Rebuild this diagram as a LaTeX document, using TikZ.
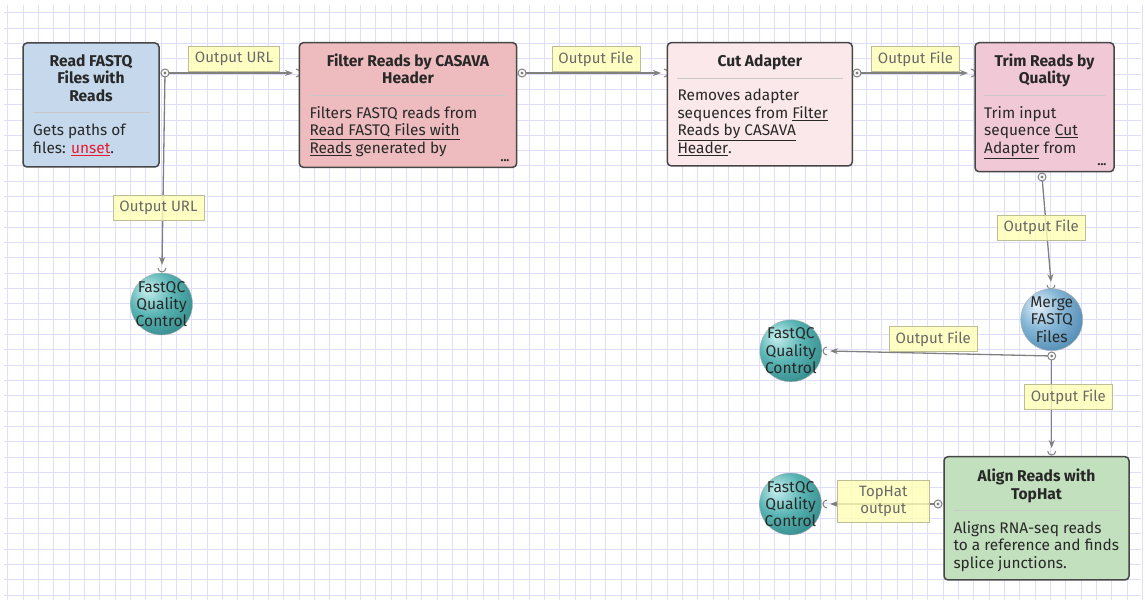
\documentclass[tikz,border=0pt]{standalone}
\usepackage{fontspec}
\setmainfont{Fira Sans}
\usetikzlibrary{arrows.meta}
\definecolor{gridc}{RGB}{222,222,252}
\definecolor{conn}{RGB}{128,128,128}
\definecolor{bord}{RGB}{70,70,70}
\definecolor{sep}{RGB}{200,200,200}
\definecolor{cblue}{RGB}{197,216,236}
\definecolor{cred}{RGB}{238,188,190}
\definecolor{cpale}{RGB}{250,232,234}
\definecolor{cmauve}{RGB}{240,200,214}
\definecolor{cgreen}{RGB}{194,224,190}
\definecolor{labfill}{RGB}{255,255,180}
\definecolor{labdraw}{RGB}{190,190,150}
\definecolor{labtext}{RGB}{105,105,105}
\definecolor{txt}{RGB}{40,40,40}
\definecolor{unsetred}{RGB}{232,25,44}
\definecolor{tealhi}{RGB}{200,240,240}
\definecolor{tealmid}{RGB}{90,180,180}
\definecolor{tealdk}{RGB}{30,115,115}
\definecolor{bluehi}{RGB}{230,242,250}
\definecolor{bluemid}{RGB}{130,180,212}
\definecolor{bluedk}{RGB}{55,115,160}
\pgfdeclareradialshading{tealball}{\pgfpoint{-12bp}{12bp}}{color(0bp)=(tealhi); color(18bp)=(tealmid); color(45bp)=(tealdk); color(70bp)=(tealdk)}
\pgfdeclareradialshading{blueball}{\pgfpoint{-12bp}{12bp}}{color(0bp)=(bluehi); color(18bp)=(bluemid); color(45bp)=(bluedk); color(70bp)=(bluedk)}
\tikzset{
  gridline/.style={gridc, line width=1pt},
  stepbox/.style={draw=bord, line width=1.5pt, rounded corners=4pt, inner sep=0pt},
  ttl/.style={font=\fontsize{15.6}{17.3}\selectfont\bfseries, text=txt, align=center, anchor=base, inner sep=0pt},
  body/.style={font=\fontsize{15.4}{17.5}\selectfont, text=txt, align=left, anchor=base west, inner sep=0pt},
  sepline/.style={sep, line width=0.8pt},
  ball/.style={circle, minimum size=62pt, inner sep=0pt, draw=gray!60, line width=0.4pt},
  balltext/.style={font=\fontsize{15.6}{17.3}\selectfont, text=txt, align=center, inner sep=0pt},
  connline/.style={conn, line width=1.3pt, -{Stealth[length=8pt,width=6pt]}},
  inarc/.style={conn, line width=1pt},
  lab/.style={draw=labdraw, fill=labfill, fill opacity=0.8, text opacity=1, text=labtext, line width=0.8pt, font=\fontsize{15}{17}\selectfont, inner sep=0pt, align=center},
  portring/.style={draw=conn, fill=white, line width=1pt},
  dots/.style={font=\fontsize{12}{12}\selectfont\bfseries, text=txt, inner sep=0pt}
}
\begin{document}
\begin{tikzpicture}[x=1pt, y=-1pt]
\useasboundingbox (0,0) rectangle (1145,604);
\fill[white] (0,0) rectangle (1145,604);
% grid
\foreach \i in {0,...,74} { \draw[gridline] ({7.9+15.33*\i},5) -- ({7.9+15.33*\i},600); }
\foreach \j in {0,...,38} { \draw[gridline] (4,{12.7+15.33*\j}) -- (1141,{12.7+15.33*\j}); }

% ports and inputs
\coordinate (p1) at (165,73);
\coordinate (p2) at (522,73);
\coordinate (p3) at (857,73);
\coordinate (p4) at (1042,177);
\coordinate (p5) at (1051.7,356);
\coordinate (p6) at (938,504);
\coordinate (a1) at (293,73);   \coordinate (i1) at (296,73);
\coordinate (a2) at (661,73);   \coordinate (i2) at (664,73);
\coordinate (a3) at (968,73);   \coordinate (i3) at (971,73);
\coordinate (a4) at (162,265);  \coordinate (i4) at (162,268);
\coordinate (a5) at (1051,282); \coordinate (i5) at (1051,285);
\coordinate (a6) at (830,351);  \coordinate (i6) at (827,351);
\coordinate (a7) at (1051.7,448); \coordinate (i7) at (1051.7,451);
\coordinate (a8) at (830,504);  \coordinate (i8) at (827,504);

% connectors
\draw[connline] (p1) -- (a1);
\draw[connline] (p2) -- (a2);
\draw[connline] (p3) -- (a3);
\draw[connline] (p1) -- (a4);
\draw[connline] (p4) -- (a5);
\draw[connline] (p5) -- (a6);
\draw[connline] (p5) -- (a7);
\draw[connline] (p6) -- (a8);
% input arcs
\draw[inarc] (i1) ++(0,-4) arc (-90:90:4);
\draw[inarc] (i2) ++(0,-4) arc (-90:90:4);
\draw[inarc] (i3) ++(0,-4) arc (-90:90:4);
\draw[inarc] (i4) ++(-4,0) arc (180:0:4);
\draw[inarc] (i5) ++(-4,0) arc (180:0:4);
\draw[inarc] (i6) ++(0,-4) arc (270:90:4);
\draw[inarc] (i7) ++(-4,0) arc (180:0:4);
\draw[inarc] (i8) ++(0,-4) arc (270:90:4);

% labels
\node[lab, minimum width=90.6pt, minimum height=25.7pt] (l1) at (234,58.8) {Output URL};
\node[lab, minimum width=91pt, minimum height=25pt] (l2) at (158.5,207.5) {Output URL};
\node[lab, minimum width=88pt, minimum height=25.7pt] (l3) at (596,58.8) {Output File};
\node[lab, minimum width=87.6pt, minimum height=25.7pt] (l4) at (915.5,58.8) {Output File};
\node[lab, minimum width=87.7pt, minimum height=25pt] (l5) at (1041.2,227.5) {Output File};
\node[lab, minimum width=88.3pt, minimum height=25.7pt] (l6) at (933.2,338.8) {Output File};
\node[lab, minimum width=88pt, minimum height=25pt] (l7) at (1068.3,396.8) {Output File};
\node[lab, minimum width=92pt, minimum height=42.3pt] (l8) at (883.3,501.2) {TopHat\\output};

% boxes
\node[stepbox, fill=cblue, minimum width=136pt, minimum height=124pt] (read) at (91,105) {};
\node[stepbox, fill=cred, minimum width=217.4pt, minimum height=124.6pt] (filter) at (408,105) {};
\node[stepbox, fill=cpale, minimum width=185pt, minimum height=123.3pt] (cut) at (759.8,104.3) {};
\node[stepbox, fill=cmauve, minimum width=139pt, minimum height=129pt] (trim) at (1044.5,107.2) {};
\node[stepbox, fill=cgreen, minimum width=185pt, minimum height=123.3pt] (align) at (1036.5,518.3) {};

% box texts (anchor = baseline of last line)
\node[ttl] (readt) at (91,101.3) {Read FASTQ\\Files with\\Reads};
\draw[sepline] (33,112.7) -- (150,112.7);
\node[body] (readb) at (33,153.3) {Gets paths of\\files: \textcolor{unsetred}{\underline{unset}}.};

\node[ttl] (filtert) at (408,84) {Filter Reads by CASAVA\\Header};
\draw[sepline] (309,95) -- (507,95);
\node[body] (filterb) at (309.3,153.3) {Filters FASTQ reads from\\\underline{Read FASTQ Files with}\\\underline{Reads} generated by};
\node[dots] (filterd) at (505,161) {...};

\node[ttl] (cutt) at (759.8,66.7) {Cut Adapter};
\draw[sepline] (677,78.3) -- (843,78.3);
\node[body] (cutb) at (677.3,153.3) {Removes adapter\\sequences from \underline{Filter}\\\underline{Reads by CASAVA}\\\underline{Header}.};

\node[ttl] (trimt) at (1044.5,84) {Trim Reads by\\Quality};
\draw[sepline] (984,95) -- (1105,95);
\node[body] (trimb) at (984,153.3) {Trim input\\sequence \underline{Cut}\\\underline{Adapter} from};
\node[dots] (trimd) at (1102,165) {...};

\node[ttl] (alignt) at (1036.5,499) {Align Reads with\\TopHat};
\draw[sepline] (954,510) -- (1120,510);
\node[body] (alignb) at (953.3,568.3) {Aligns RNA-seq reads\\to a reference and finds\\splice junctions.};

% balls
\node[ball, shading=tealball] (fq1) at (161.5,304) {};
\node[balltext] at (fq1) {FastQC\\Quality\\Control};
\node[ball, shading=blueball] (merge) at (1051.7,319.7) {};
\node[balltext] at (merge) {Merge\\FASTQ\\Files};
\node[ball, shading=tealball] (fq2) at (790.8,350.8) {};
\node[balltext] at (fq2) {FastQC\\Quality\\Control};
\node[ball, shading=tealball] (fq3) at (790.5,504) {};
\node[balltext] at (fq3) {FastQC\\Quality\\Control};

% port rings
\foreach \p in {p1,p2,p3,p4,p5,p6} {
  \draw[portring] (\p) circle (4);
  \fill[conn] (\p) circle (1.6);
}
\end{tikzpicture}
\end{document}
